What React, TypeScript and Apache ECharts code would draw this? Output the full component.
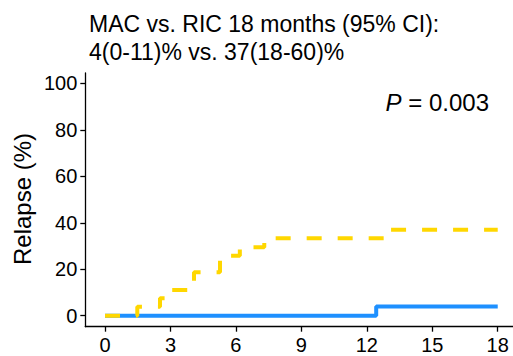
import React, { useEffect, useRef } from "react";
import * as echarts from "echarts";

const titleLines = ["MAC vs. RIC 18 months (95% CI):", "4(0-11)% vs. 37(18-60)%"];
const yAxisTitle = "Relapse (%)";
const pItalic = "P";
const pRest = " = 0.003";

const xTicks = [0, 3, 6, 9, 12, 15, 18];
const yTicks = [0, 20, 40, 60, 80, 100];

// RIC: [month, cumulative incidence %]
const ricTimes = [0, 1.48, 2.52, 2.9, 4.08, 5.27, 6.18, 7.3, 12.95, 18];
const ricValues = [0, 3.9, 7.5, 11.1, 18.7, 25.8, 29.5, 33.3, 37, 37];
// MAC
const macTimes = [0, 12.43, 18];
const macValues = [0, 4, 4];

const FONT = "'Liberation Sans', Arial, Helvetica, sans-serif";

export default function App() {
  const ref = useRef<HTMLDivElement>(null);
  useEffect(() => {
    if (!ref.current) return;
    const chart = echarts.init(ref.current, null, { renderer: "svg" });
    const ric = ricTimes.map((t, i) => [t, ricValues[i]]);
    const mac = macTimes.map((t, i) => [t, macValues[i]]);
    chart.setOption({
      animation: false,
      backgroundColor: "#ffffff",
      title: {
        text: titleLines.join("\n"),
        left: 84,
        top: 5,
        textStyle: {
          fontFamily: FONT,
          fontSize: 23,
          fontWeight: "normal",
          color: "#000",
          lineHeight: 28,
        },
      },
      grid: {
        left: 85.3,
        right: 0,
        top: 73,
        bottom: 29.3,
        containLabel: false,
        outerBoundsMode: "none",
      },
      xAxis: {
        type: "value",
        min: -0.903,
        max: 18.7,
        splitLine: { show: false },
        axisLine: { show: true, onZero: false, lineStyle: { color: "#000", width: 1.3 } },
        axisTick: {
          show: true,
          length: 5,
          customValues: xTicks,
          lineStyle: { color: "#000", width: 1.3 },
        },
        axisLabel: {
          customValues: xTicks,
          fontFamily: FONT,
          fontSize: 20,
          color: "#000",
          margin: 8,
        },
      },
      yAxis: {
        type: "value",
        min: -4.74,
        max: 104.5,
        splitLine: { show: false },
        axisLine: { show: true, onZero: false, lineStyle: { color: "#000", width: 1.3 } },
        axisTick: {
          show: true,
          length: 5,
          customValues: yTicks,
          lineStyle: { color: "#000", width: 1.3 },
        },
        axisLabel: {
          customValues: yTicks,
          fontFamily: FONT,
          fontSize: 20,
          color: "#000",
          margin: 8,
        },
      },
      graphic: [
        {
          type: "text",
          x: 22,
          y: 199,
          rotation: Math.PI / 2,
          style: {
            text: yAxisTitle,
            fontFamily: FONT,
            fontSize: 24,
            fill: "#000",
            align: "center",
            verticalAlign: "middle",
          },
        },
        {
          type: "text",
          x: 489,
          y: 102,
          style: {
            text: "{i|" + pItalic + "}{n|" + pRest + "}",
            align: "right",
            verticalAlign: "middle",
            rich: {
              i: { fontFamily: FONT, fontSize: 24, fontStyle: "italic", fill: "#000" },
              n: { fontFamily: FONT, fontSize: 24, fill: "#000" },
            },
          },
        },
      ],
      series: [
        {
          type: "line",
          name: "MAC",
          step: "end",
          data: mac,
          showSymbol: false,
          z: 2,
          lineStyle: { color: "#1E90FF", width: 4, cap: "butt" },
        },
        {
          type: "line",
          name: "RIC",
          step: "end",
          data: ric,
          showSymbol: false,
          z: 3,
          lineStyle: { color: "#FFD700", width: 4, type: [15, 16], cap: "butt" },
        },
      ],
    });
    return () => chart.dispose();
  }, []);
  return (
    <div
      ref={ref}
      style={{ position: "fixed", left: 0, top: 0, width: 513, height: 356, background: "#fff" }}
    />
  );
}
